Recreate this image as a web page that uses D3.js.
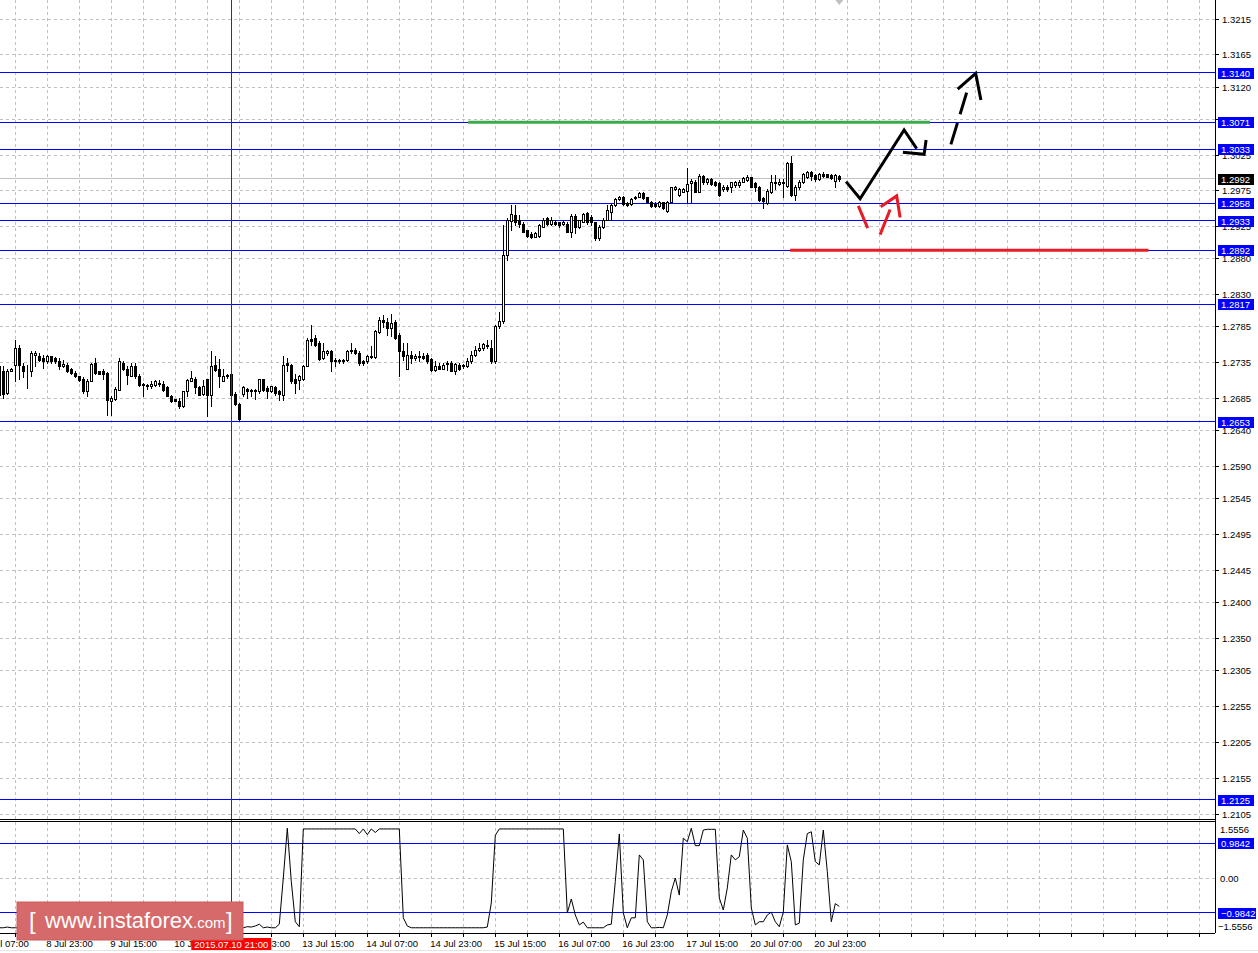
<!DOCTYPE html>
<html><head><meta charset="utf-8">
<script src="https://cdn.jsdelivr.net/npm/d3@7"></script>
<style>
body{margin:0;background:#fff}
svg{display:block}
text{font-family:"Liberation Sans",Arial,sans-serif}
</style>
</head><body>
<svg id="c" width="1258" height="953"></svg>
<script>
// ---------------- DATA ----------------
const priceTicks = [1.3215,1.3165,1.3120,1.3075,1.3025,1.2975,1.2925,1.2880,1.2830,1.2785,1.2735,1.2685,1.2640,1.2590,1.2545,1.2495,1.2445,1.2400,1.2350,1.2305,1.2255,1.2205,1.2155,1.2105];
const timeLabels = ["8 Jul 07:00","8 Jul 23:00","9 Jul 15:00","10 Jul 07:00","10 Jul 23:00","13 Jul 15:00","14 Jul 07:00","14 Jul 23:00","15 Jul 15:00","16 Jul 07:00","16 Jul 23:00","17 Jul 15:00","20 Jul 07:00","20 Jul 23:00"];
const timeLabelFirstBar = -4;   // bar index of first label
const barsPerLabel = 16;
const levelLines = [1.3140,1.3071,1.3033,1.2958,1.2933,1.2892,1.2817,1.2653,1.2125];
const bidPrice = 1.2992;
const crosshairBar = 58;
const crosshairLabel = "2015.07.10 21:00";
const indTicks = [1.5556, 0.00, -1.5556];
const indLevels = [0.9842, -0.9842];

// OHLC, one per hourly bar
const candles = [
[1.2730,1.2735,1.2686,1.2690],[1.2724,1.2730,1.2686,1.2691],[1.2693,1.2726,1.2691,1.2723],[1.2724,1.2728,1.2723,1.2727],
[1.2732,1.2767,1.2709,1.2755],[1.2755,1.2760,1.2713,1.2732],[1.2731,1.2734,1.2715,1.2723],[1.2724,1.2732,1.2700,1.2723],
[1.2723,1.2751,1.2716,1.2749],[1.2746,1.2751,1.2730,1.2749],[1.2745,1.2748,1.2737,1.2739],[1.2741,1.2746,1.2728,1.2737],
[1.2737,1.2746,1.2734,1.2745],[1.2744,1.2745,1.2735,1.2737],[1.2741,1.2743,1.2735,1.2737],[1.2738,1.2741,1.2727,1.2730],
[1.2731,1.2739,1.2729,1.2733],[1.2732,1.2734,1.2722,1.2723],[1.2726,1.2728,1.2720,1.2721],[1.2721,1.2723,1.2715,1.2716],
[1.2716,1.2717,1.2710,1.2711],[1.2713,1.2715,1.2693,1.2695],[1.2696,1.2712,1.2688,1.2709],[1.2709,1.2734,1.2709,1.2733],
[1.2734,1.2742,1.2719,1.2721],[1.2723,1.2724,1.2719,1.2720],[1.2724,1.2727,1.2713,1.2720],[1.2721,1.2722,1.2662,1.2683],
[1.2682,1.2688,1.2662,1.2686],[1.2684,1.2701,1.2683,1.2699],[1.2697,1.2741,1.2697,1.2737],[1.2735,1.2737,1.2725,1.2727],
[1.2727,1.2730,1.2706,1.2718],[1.2717,1.2734,1.2716,1.2731],[1.2731,1.2734,1.2714,1.2717],[1.2717,1.2720,1.2703,1.2704],
[1.2706,1.2707,1.2688,1.2704],[1.2702,1.2706,1.2699,1.2704],[1.2702,1.2709,1.2700,1.2706],[1.2704,1.2711,1.2703,1.2709],
[1.2707,1.2711,1.2702,1.2706],[1.2706,1.2709,1.2695,1.2697],[1.2701,1.2702,1.2688,1.2689],[1.2689,1.2690,1.2680,1.2681],
[1.2684,1.2685,1.2681,1.2682],[1.2682,1.2686,1.2672,1.2674],[1.2674,1.2696,1.2673,1.2695],[1.2695,1.2713,1.2688,1.2711],
[1.2709,1.2724,1.2709,1.2714],[1.2712,1.2715,1.2693,1.2701],[1.2701,1.2703,1.2690,1.2690],[1.2692,1.2711,1.2690,1.2702],
[1.2712,1.2713,1.2660,1.2690],[1.2690,1.2752,1.2674,1.2731],[1.2732,1.2744,1.2723,1.2725],[1.2727,1.2740,1.2701,1.2716],
[1.2710,1.2727,1.2709,1.2717],[1.2718,1.2719,1.2714,1.2716],[1.2719,1.2727,1.2688,1.2690],[1.2692,1.2694,1.2676,1.2678],
[1.2678,1.2679,1.2654,1.2656],[1.2692,1.2703,1.2688,1.2701],[1.2699,1.2700,1.2686,1.2696],[1.2697,1.2699,1.2688,1.2695],
[1.2697,1.2699,1.2684,1.2696],[1.2696,1.2713,1.2693,1.2712],[1.2712,1.2713,1.2696,1.2697],[1.2700,1.2703,1.2686,1.2695],
[1.2695,1.2703,1.2694,1.2702],[1.2701,1.2703,1.2690,1.2693],[1.2695,1.2697,1.2683,1.2692],[1.2690,1.2744,1.2683,1.2732],
[1.2734,1.2741,1.2723,1.2732],[1.2732,1.2733,1.2707,1.2709],[1.2713,1.2720,1.2693,1.2707],[1.2711,1.2718,1.2698,1.2716],
[1.2713,1.2732,1.2711,1.2731],[1.2730,1.2769,1.2730,1.2767],[1.2768,1.2788,1.2760,1.2766],[1.2769,1.2774,1.2758,1.2760],
[1.2763,1.2765,1.2739,1.2740],[1.2741,1.2762,1.2740,1.2752],[1.2748,1.2753,1.2746,1.2752],[1.2751,1.2753,1.2723,1.2737],
[1.2739,1.2741,1.2730,1.2738],[1.2739,1.2740,1.2734,1.2738],[1.2737,1.2740,1.2735,1.2739],[1.2739,1.2753,1.2737,1.2752],
[1.2753,1.2762,1.2749,1.2751],[1.2753,1.2756,1.2747,1.2748],[1.2749,1.2751,1.2732,1.2734],[1.2737,1.2739,1.2732,1.2735],
[1.2737,1.2746,1.2734,1.2745],[1.2744,1.2758,1.2742,1.2743],[1.2743,1.2781,1.2741,1.2780],[1.2778,1.2799,1.2776,1.2795],
[1.2795,1.2802,1.2785,1.2792],[1.2792,1.2797,1.2774,1.2783],[1.2783,1.2803,1.2772,1.2791],[1.2792,1.2795,1.2768,1.2769],
[1.2774,1.2776,1.2716,1.2751],[1.2751,1.2762,1.2739,1.2744],[1.2727,1.2762,1.2726,1.2746],[1.2746,1.2751,1.2734,1.2741],
[1.2741,1.2747,1.2739,1.2745],[1.2745,1.2751,1.2737,1.2743],[1.2745,1.2749,1.2740,1.2741],[1.2746,1.2748,1.2735,1.2737],
[1.2740,1.2741,1.2724,1.2725],[1.2725,1.2737,1.2723,1.2731],[1.2730,1.2734,1.2726,1.2727],[1.2727,1.2735,1.2726,1.2732],
[1.2735,1.2738,1.2725,1.2733],[1.2735,1.2737,1.2723,1.2724],[1.2723,1.2735,1.2720,1.2733],[1.2732,1.2734,1.2725,1.2727],
[1.2730,1.2733,1.2728,1.2732],[1.2730,1.2741,1.2729,1.2738],[1.2737,1.2751,1.2735,1.2746],[1.2746,1.2758,1.2745,1.2753],
[1.2753,1.2762,1.2751,1.2756],[1.2755,1.2763,1.2753,1.2761],[1.2760,1.2767,1.2755,1.2758],[1.2755,1.2767,1.2734,1.2737],
[1.2737,1.2788,1.2734,1.2786],[1.2786,1.2806,1.2783,1.2794],[1.2793,1.2927,1.2790,1.2885],[1.2885,1.2937,1.2878,1.2934],
[1.2933,1.2955,1.2920,1.2943],[1.2941,1.2955,1.2927,1.2932],[1.2935,1.2941,1.2924,1.2929],[1.2929,1.2931,1.2917,1.2918],
[1.2920,1.2921,1.2910,1.2912],[1.2915,1.2917,1.2909,1.2910],[1.2911,1.2918,1.2910,1.2916],[1.2912,1.2929,1.2911,1.2927],
[1.2925,1.2937,1.2924,1.2935],[1.2937,1.2939,1.2928,1.2929],[1.2929,1.2939,1.2928,1.2935],[1.2931,1.2934,1.2927,1.2929],
[1.2931,1.2932,1.2924,1.2927],[1.2929,1.2934,1.2927,1.2932],[1.2929,1.2931,1.2917,1.2918],[1.2918,1.2943,1.2910,1.2940],
[1.2940,1.2943,1.2916,1.2924],[1.2924,1.2935,1.2923,1.2934],[1.2932,1.2944,1.2931,1.2943],[1.2944,1.2946,1.2929,1.2931],
[1.2939,1.2941,1.2928,1.2931],[1.2931,1.2932,1.2907,1.2909],[1.2909,1.2927,1.2907,1.2925],[1.2924,1.2937,1.2923,1.2935],
[1.2935,1.2955,1.2934,1.2948],[1.2946,1.2958,1.2934,1.2955],[1.2955,1.2965,1.2954,1.2963],[1.2963,1.2968,1.2962,1.2967],
[1.2967,1.2968,1.2955,1.2957],[1.2958,1.2960,1.2954,1.2955],[1.2957,1.2965,1.2955,1.2963],[1.2965,1.2968,1.2964,1.2967],
[1.2967,1.2973,1.2966,1.2972],[1.2972,1.2973,1.2964,1.2965],[1.2966,1.2967,1.2959,1.2960],[1.2960,1.2961,1.2953,1.2954],
[1.2957,1.2959,1.2953,1.2954],[1.2954,1.2961,1.2953,1.2959],[1.2959,1.2960,1.2950,1.2951],[1.2947,1.2961,1.2946,1.2960],
[1.2960,1.2981,1.2959,1.2980],[1.2977,1.2982,1.2976,1.2981],[1.2969,1.2979,1.2968,1.2977],[1.2974,1.2979,1.2973,1.2977],
[1.2975,1.3007,1.2958,1.2985],[1.2986,1.2991,1.2958,1.2989],[1.2988,1.2990,1.2973,1.2974],[1.2974,1.2999,1.2973,1.2996],
[1.2996,1.2997,1.2985,1.2987],[1.2987,1.2993,1.2985,1.2991],[1.2991,1.2993,1.2983,1.2985],[1.2988,1.2989,1.2982,1.2983],
[1.2986,1.2987,1.2968,1.2969],[1.2977,1.2983,1.2975,1.2981],[1.2981,1.2983,1.2975,1.2977],[1.2980,1.2988,1.2974,1.2987],
[1.2983,1.2989,1.2981,1.2988],[1.2983,1.2990,1.2981,1.2988],[1.2988,1.2995,1.2987,1.2993],[1.2990,1.2997,1.2989,1.2995],
[1.2994,1.2995,1.2980,1.2981],[1.2986,1.2988,1.2975,1.2981],[1.2980,1.2982,1.2961,1.2962],[1.2965,1.2967,1.2951,1.2961],
[1.2958,1.2977,1.2957,1.2975],[1.2974,1.2997,1.2972,1.2988],[1.2988,1.2997,1.2977,1.2986],[1.2985,1.2991,1.2983,1.2988],
[1.2988,1.2991,1.2967,1.2986],[1.2982,1.3015,1.2981,1.3014],[1.3014,1.3024,1.2968,1.2969],[1.2969,1.2983,1.2962,1.2981],
[1.2980,1.2990,1.2977,1.2988],[1.2988,1.3000,1.2986,1.2999],[1.2995,1.3003,1.2993,1.3002],[1.3002,1.3003,1.2990,1.2996],
[1.2997,1.2999,1.2989,1.2991],[1.2991,1.3000,1.2990,1.2999],[1.2999,1.3001,1.2995,1.2996],[1.2998,1.2999,1.2994,1.2995],
[1.2997,1.2999,1.2991,1.2993],[1.2989,1.2999,1.2980,1.2997],[1.2996,1.2997,1.2989,1.2992]
];

// oscillator values, one per bar
const indicator = [
-1.40,-1.40,-1.38,-1.40,-1.40,-1.40,-1.39,-1.40,-1.40,-1.38,
-1.40,-1.40,-1.40,-1.37,-1.40,-1.40,-1.40,-1.39,-1.40,-1.40,
-1.40,-1.38,-1.40,-1.40,-1.40,-1.40,-1.36,-1.40,-1.40,-1.40,
-1.40,-1.40,-1.38,-1.40,-1.40,-1.40,-1.40,-1.40,-1.39,-1.40,
-1.40,-1.40,-1.40,-1.40,-1.40,-1.40,-1.38,-1.40,-1.40,-1.40,
-1.40,-1.40,-1.40,-1.37,-1.40,-1.40,-1.40,-1.40,-1.40,-1.40,
-1.40,-1.40,-1.37,-1.38,-1.35,-1.30,-1.40,-1.38,-1.40,-1.40,
-1.30,0.00,1.40,-0.10,-1.23,-1.37,1.38,1.38,1.38,1.38,
1.38,1.38,1.38,1.38,1.38,1.38,1.38,1.38,1.38,1.38,
1.25,1.38,1.22,1.38,1.28,1.38,1.38,1.38,1.38,1.38,
1.38,-1.12,-1.35,-1.40,-1.40,-1.40,-1.40,-1.40,-1.40,-1.40,
-1.40,-1.40,-1.40,-1.40,-1.40,-1.40,-1.40,-1.40,-1.40,-1.40,
-1.40,-1.40,-1.38,-0.70,1.20,1.38,1.38,1.38,1.38,1.38,
1.38,1.38,1.38,1.38,1.38,1.38,1.38,1.38,1.38,1.38,
1.38,1.38,-0.98,-0.59,-1.04,-1.32,-1.24,-1.40,-1.40,-1.40,
-1.40,-1.40,-1.32,-1.30,-0.10,1.24,-0.98,-1.40,-1.12,-1.12,
0.65,0.51,-1.23,-1.40,-1.40,-1.39,-1.40,-1.04,-0.38,0.00,
-0.48,1.12,1.02,1.40,0.91,0.91,1.35,1.37,1.37,1.37,
-0.56,-0.90,-0.28,0.65,0.51,0.60,1.35,1.12,-0.84,-1.32,
-1.23,-1.23,-1.04,-0.96,-1.23,-1.37,-0.96,0.93,0.46,-1.32,
-1.27,0.51,1.25,1.30,0.46,0.37,1.35,0.18,-1.23,-0.72,
-0.80
];

// hand-drawn forecast marks, in (bar index, price)
const greenLevel = {from:117.2, to:232.7, price:1.3071};
const redLevel   = {from:197.7, to:287.3, price:1.2892};
const blackPath  = [[211.7,1.2988],[215.2,1.2964],[226.2,1.3060],[229.35,1.3034]];
const blackHook  = [[225.9,1.3029],[231.2,1.3026],[231.7,1.3046]];
const blackDashShaft = [[237.9,1.3040],[242.1,1.3117]];
const blackHead  = [[239.6,1.3117],[244.1,1.3139],[245.4,1.3102]];
const redDown    = [[214.75,1.2954],[217.1,1.2923]];
const redShaft   = [[220.2,1.2914],[222.7,1.2949]];
const redHead    = [[220.35,1.2953],[224.35,1.2968],[225.2,1.2938]];

// ---------------- LAYOUT ----------------
const svg = d3.select("#c");
const plotR = 1215;
const mainB = 819;
const indT = 822, indB = 933;

const x = d3.scaleLinear().domain([0,1]).range([-0.7,3.3]);
const y = d3.scaleLinear().domain([1.2105,1.3215]).range([814,19]);
const yi = d3.scaleLinear().domain([-1.5556,1.5556]).range([933.3,822.7]);
const px = v => Math.floor(v)+0.5;

svg.append("rect").attr("width",1258).attr("height",953).attr("fill","#fff");

const defs = svg.append("defs");
defs.append("clipPath").attr("id","mainClip").append("rect").attr("x",0).attr("y",0).attr("width",plotR).attr("height",mainB);
defs.append("clipPath").attr("id","indClip").append("rect").attr("x",0).attr("y",indT).attr("width",plotR).attr("height",indB-indT);

const gMain = svg.append("g").attr("clip-path","url(#mainClip)");
const gInd = svg.append("g").attr("clip-path","url(#indClip)");

// vertical grid
const gridBars = d3.range(4, 304, 8);
[ [gMain,0,mainB], [gInd,indT,indB] ].forEach(([g,t,b])=>{
  g.selectAll(null).data(gridBars).enter().append("line")
   .attr("x1",d=>px(x(d))).attr("x2",d=>px(x(d))).attr("y1",t).attr("y2",b)
   .attr("stroke","#c0c0c0").attr("stroke-dasharray","3,3");
});
// horizontal grid
gMain.selectAll(null).data(priceTicks).enter().append("line")
  .attr("x1",0).attr("x2",plotR).attr("y1",d=>px(y(d))).attr("y2",d=>px(y(d)))
  .attr("stroke","#c0c0c0").attr("stroke-dasharray","3,3");
gInd.append("line").attr("x1",0).attr("x2",plotR).attr("y1",px(yi(0))).attr("y2",px(yi(0)))
  .attr("stroke","#c0c0c0").attr("stroke-dasharray","3,3");

// bid line
gMain.append("line").attr("x1",0).attr("x2",plotR).attr("y1",px(y(bidPrice))).attr("y2",px(y(bidPrice))).attr("stroke","#c0c0c0");

// level lines
gMain.selectAll(null).data(levelLines).enter().append("line")
  .attr("x1",0).attr("x2",plotR).attr("y1",d=>px(y(d))).attr("y2",d=>px(y(d)))
  .attr("stroke","#0000ff");
gInd.selectAll(null).data(indLevels).enter().append("line")
  .attr("x1",0).attr("x2",plotR).attr("y1",d=>px(yi(d))).attr("y2",d=>px(yi(d)))
  .attr("stroke","#0000ff");

// crosshair vertical
svg.append("line").attr("x1",px(x(crosshairBar))).attr("x2",px(x(crosshairBar))).attr("y1",0).attr("y2",indB)
  .attr("stroke","#c00000");

// candles
const cg = gMain.append("g");
candles.forEach((c,i)=>{
  const [o,h,l,cl] = c;
  const cx = px(x(i));
  cg.append("line").attr("x1",cx).attr("x2",cx).attr("y1",Math.round(y(h))).attr("y2",Math.round(y(l))+1).attr("stroke","#000");
  const top = Math.round(y(Math.max(o,cl))), bot = Math.round(y(Math.min(o,cl)));
  cg.append("rect").attr("x",cx-1).attr("y",top+0.5).attr("width",2).attr("height",Math.max(0,bot-top))
    .attr("fill", cl>=o ? "#fff" : "#000").attr("stroke","#000");
});

// indicator line
gInd.append("path").datum(indicator)
  .attr("d", d3.line().x((d,i)=>x(i)).y(d=>yi(d)))
  .attr("fill","none").attr("stroke","#000").attr("stroke-width",1);

// hand-drawn marks
gMain.append("line").attr("x1",x(greenLevel.from)).attr("x2",x(greenLevel.to))
  .attr("y1",y(greenLevel.price)).attr("y2",y(greenLevel.price)).attr("stroke","#3cac4a").attr("stroke-width",3);
gMain.append("line").attr("x1",x(redLevel.from)).attr("x2",x(redLevel.to))
  .attr("y1",y(redLevel.price)).attr("y2",y(redLevel.price)).attr("stroke","#e81c24").attr("stroke-width",3);
const ln = d3.line().x(d=>x(d[0])).y(d=>y(d[1]));
[[blackPath,"#000"],[blackHook,"#000"],[blackHead,"#000"],[redDown,"#e81c24"],[redShaft,"#e81c24"],[redHead,"#e81c24"]].forEach(([pts,col])=>{
  gMain.append("path").attr("d",ln(pts)).attr("fill","none").attr("stroke",col).attr("stroke-width",3).attr("stroke-linejoin","miter");
});
gMain.append("path").attr("d",ln(blackDashShaft)).attr("fill","none").attr("stroke","#000").attr("stroke-width",3).attr("stroke-dasharray","22.5,9");

// shift marker
const sx = x(candles.length-1);
svg.append("path").attr("d",`M${sx-4},0L${sx+4},0L${sx},5Z`).attr("fill","#c0c0c0");

// frame lines
svg.append("line").attr("x1",px(plotR)).attr("x2",px(plotR)).attr("y1",0).attr("y2",indB).attr("stroke","#000");
svg.append("line").attr("x1",0).attr("x2",plotR).attr("y1",mainB+0.5).attr("y2",mainB+0.5).attr("stroke","#000");
svg.append("line").attr("x1",0).attr("x2",plotR).attr("y1",indT-0.5).attr("y2",indT-0.5).attr("stroke","#000");
svg.append("line").attr("x1",0).attr("x2",plotR).attr("y1",indB+0.5).attr("y2",indB+0.5).attr("stroke","#000");
svg.append("line").attr("x1",0).attr("x2",1258).attr("y1",950.5).attr("y2",950.5).attr("stroke","#e4e4e4");

// right price axis
const ax = svg.append("g").attr("font-size",9.5);
priceTicks.forEach(t=>{
  const yy = px(y(t));
  ax.append("line").attr("x1",plotR).attr("x2",plotR+4).attr("y1",yy).attr("y2",yy).attr("stroke","#000");
  ax.append("text").attr("x",1222).attr("y",yy+3.5).text(d3.format(".4f")(t));
});
function box(val, label, fill){
  const yy = Math.round(val);
  const w = label.length>6 ? 38 : 36;
  ax.append("rect").attr("x",1218).attr("y",yy-5).attr("width",w).attr("height",11).attr("fill",fill);
  ax.append("text").attr("x",1221).attr("y",yy+4).attr("fill","#fff").text(label);
}
levelLines.forEach(l=>box(y(l), d3.format(".4f")(l), "#0000ff"));
box(y(bidPrice), d3.format(".4f")(bidPrice), "#000");

// indicator axis
ax.append("text").attr("x",1220).attr("y",yi(indTicks[0])+10).text(d3.format(".4f")(indTicks[0]));
ax.append("text").attr("x",1220).attr("y",yi(indTicks[1])+3.5).text(d3.format(".2f")(indTicks[1]));
ax.append("text").attr("x",1218).attr("y",yi(indTicks[2])-3).text(d3.format(".4f")(indTicks[2]));
indLevels.forEach(l=>box(yi(l), d3.format(".4f")(l), "#0000ff"));

// time axis
const ta = svg.append("g").attr("font-size",9.5);
gridBars.forEach(b=>{
  ta.append("line").attr("x1",px(x(b))).attr("x2",px(x(b))).attr("y1",indB+1).attr("y2",indB+4).attr("stroke","#000");
});
timeLabels.forEach((t,k)=>{
  const b = timeLabelFirstBar + k*barsPerLabel;
  ta.append("text").attr("x",x(b)-1).attr("y",946.5).text(t);
});
// crosshair time label
const chx = x(crosshairBar);
ta.append("rect").attr("x",chx-40).attr("y",938).attr("width",80).attr("height",12).attr("fill","#ff0000");
ta.append("text").attr("x",chx).attr("y",947.5).attr("text-anchor","middle").attr("fill","#fff").text(crosshairLabel);

// watermark logo
const lg = svg.append("g");
lg.append("rect").attr("x",17).attr("y",902).attr("width",226).attr("height",38).attr("fill","#d66a6a").attr("stroke","#c95a5a");
lg.append("text").attr("x",29).attr("y",929).attr("fill","#fff").attr("font-size",24).attr("font-weight",300).text("[");
lg.append("text").attr("x",45).attr("y",928).attr("fill","#fff").attr("font-size",22).text("www.instaforex");
lg.append("text").attr("x",193).attr("y",928).attr("fill","#fff").attr("font-size",15).text(".com");
lg.append("text").attr("x",226).attr("y",929).attr("fill","#fff").attr("font-size",24).text("]");
</script>
</body></html>
